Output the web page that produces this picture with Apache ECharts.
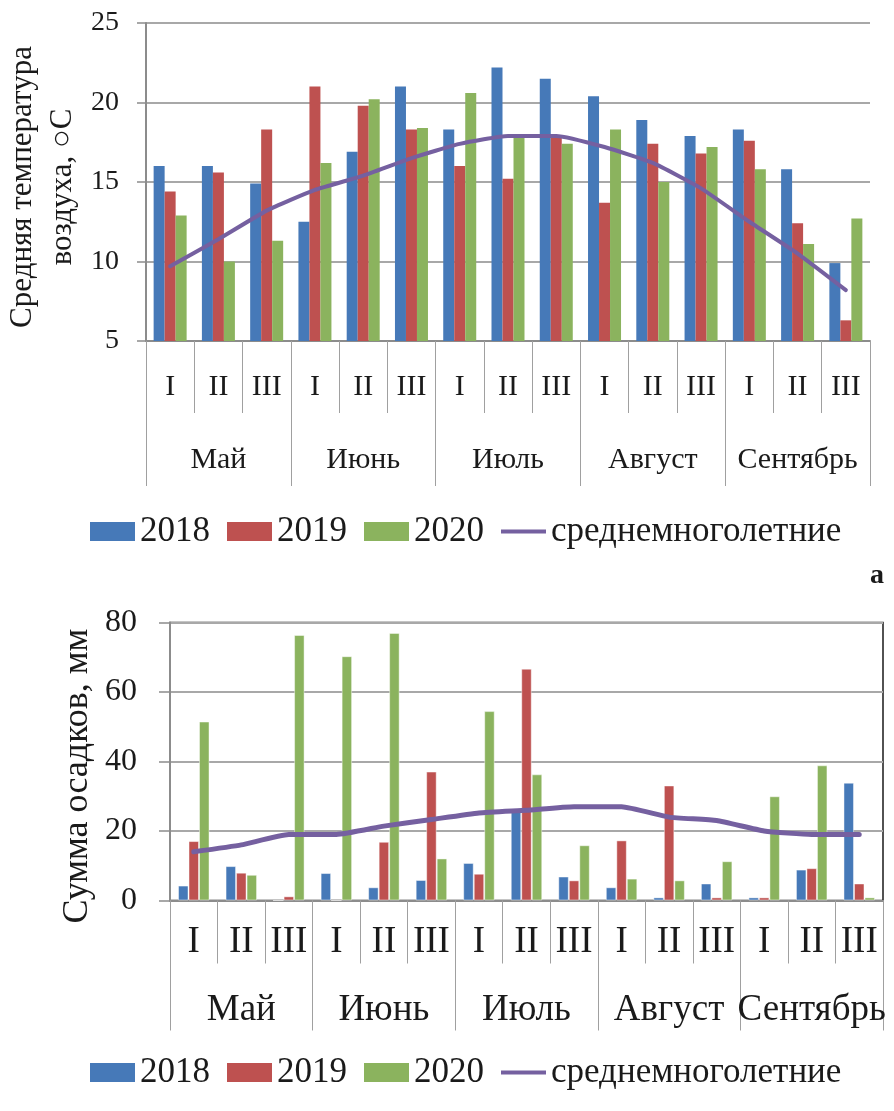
<!DOCTYPE html>
<html>
<head>
<meta charset="utf-8">
<script src="https://cdn.jsdelivr.net/npm/echarts@6/dist/echarts.min.js"></script>
<style>
  html, body { margin: 0; padding: 0; background: #fff; }
  #chart { width: 894px; height: 1111px; }
</style>
</head>
<body>
<div id="chart"></div>
<script>
// Ten-day periods (декады) within each month
const decades = ['I', 'II', 'III', 'I', 'II', 'III', 'I', 'II', 'III', 'I', 'II', 'III', 'I', 'II', 'III'];
const months = ['Май', 'Июнь', 'Июль', 'Август', 'Сентябрь'];
const seriesNames = ['2018', '2019', '2020', 'среднемноголетние'];

// Mean air temperature, °C
const temp2018 = [16.0, 16.0, 14.9, 12.5, 16.9, 21.0, 18.3, 22.2, 21.5, 20.4, 18.9, 17.9, 18.3, 15.8, 9.9];
const temp2019 = [14.4, 15.6, 18.3, 21.0, 19.8, 18.3, 16.0, 15.2, 17.9, 13.7, 17.4, 16.8, 17.6, 12.4, 6.3];
const temp2020 = [12.9, 10.0, 11.3, 16.2, 20.2, 18.4, 20.6, 17.9, 17.4, 18.3, 15.0, 17.2, 15.8, 11.1, 12.7];
const tempNorm = [9.7, 11.4, 13.2, 14.5, 15.4, 16.5, 17.4, 17.9, 17.9, 17.2, 16.2, 14.6, 12.5, 10.5, 8.2];

// Precipitation sum, mm
const prec2018 = [4.3, 9.9, 0, 7.9, 3.8, 5.9, 10.8, 26.0, 6.9, 3.8, 0.9, 4.9, 0.9, 8.9, 33.9];
const prec2019 = [17.1, 8.0, 1.2, 0, 16.9, 37.1, 7.7, 66.7, 5.8, 17.3, 33.1, 0.9, 0.9, 9.3, 4.9];
const prec2020 = [51.5, 7.4, 76.4, 70.3, 77.0, 12.1, 54.5, 36.3, 15.9, 6.3, 5.8, 11.3, 30.0, 38.9, 0.9];
const precNorm = [14, 16, 19, 19, 21.4, 23.3, 25.2, 26, 27, 27, 24, 23, 20, 19, 19];

const FONT = '"Liberation Serif", "Times New Roman", serif';
const TEXT = '#1a1a1a';
const COLORS = ['#4679B8', '#BE5150', '#8BB35E', '#7560A0'];
const AXIS_GREY = '#8c8c8c';
const GRID_GREY = '#a8a8a8';
// Legend swatch for the long-term mean: a thin bar centred in the 45x19 icon box
const LINE_ICON = 'path://M0 0h0.01v0.01H0zM0 18.99h0.01v0.01H0zM0 7.5h45v4H0z';

const chart = echarts.init(document.getElementById('chart'), null, { renderer: 'canvas' });

function subAxis(gridIndex, tickLen, labelMargin, fontSize) {
  return {
    type: 'category', gridIndex, position: 'bottom', data: decades,
    axisLine: { show: true, lineStyle: { color: AXIS_GREY, width: 2 } },
    axisTick: { show: true, interval: 0, length: tickLen, lineStyle: { color: '#a0a0a0', width: 1 } },
    axisLabel: { interval: 0, margin: labelMargin, verticalAlign: 'middle',
      fontFamily: FONT, fontSize, color: TEXT },
    splitLine: { show: false }
  };
}
function monthAxis(gridIndex, tickLen, labelMargin, fontSize) {
  return {
    type: 'category', gridIndex, position: 'bottom', data: months,
    axisLine: { show: false },
    axisTick: { show: true, interval: 0, length: tickLen, lineStyle: { color: '#a0a0a0', width: 1 } },
    axisLabel: { interval: 0, margin: labelMargin, verticalAlign: 'middle',
      fontFamily: FONT, fontSize, color: TEXT },
    splitLine: { show: false }
  };
}
function valueAxis(gridIndex, min, max, interval, tickLen, labelMargin, fontSize) {
  return {
    type: 'value', gridIndex, min, max, interval,
    axisLine: { show: true, lineStyle: { color: AXIS_GREY, width: 2 } },
    axisTick: { show: true, inside: false, length: tickLen, lineStyle: { color: AXIS_GREY, width: 1.5 } },
    axisLabel: { margin: labelMargin, fontFamily: FONT, fontSize, color: TEXT },
    splitLine: { show: true, lineStyle: { color: GRID_GREY, width: 2 } }
  };
}
function barSeries(name, data, idx, gridIdx, barW) {
  return {
    name, type: 'bar', data,
    xAxisIndex: gridIdx * 2, yAxisIndex: gridIdx,
    barWidth: barW, barGap: '0%',
    itemStyle: { color: COLORS[idx], borderColor: 'rgba(255,255,255,0.45)', borderWidth: gridIdx ? 1 : 0 },
    emphasis: { disabled: true }, animation: false
  };
}
function lineSeries(data, gridIdx, width) {
  return {
    name: seriesNames[3], type: 'line', data,
    xAxisIndex: gridIdx * 2, yAxisIndex: gridIdx,
    symbol: 'none', smooth: 0.15, z: 5,
    lineStyle: { color: COLORS[3], width, cap: 'round', join: 'round' },
    itemStyle: { color: COLORS[3] },
    emphasis: { disabled: true }, animation: false
  };
}
function legend(top) {
  return {
    data: [
      { name: seriesNames[0], icon: 'rect' },
      { name: seriesNames[1], icon: 'rect' },
      { name: seriesNames[2], icon: 'rect' },
      { name: seriesNames[3], icon: LINE_ICON, itemStyle: { color: COLORS[3], borderWidth: 0 } }
    ],
    left: 85, top, orient: 'horizontal',
    itemWidth: 45, itemHeight: 19, itemGap: 17,
    textStyle: { fontFamily: FONT, fontSize: 35, color: TEXT },
    selectedMode: false
  };
}

chart.setOption({
  animation: false,
  backgroundColor: '#ffffff',
  color: COLORS,
  grid: [
    { left: 146, top: 23, width: 724, height: 318, containLabel: false },
    { left: 170, top: 622.5, width: 713, height: 278, containLabel: false,
      show: true, borderColor: '#1a1a1a', borderWidth: 1.5, backgroundColor: 'transparent' }
  ],
  xAxis: [
    subAxis(0, 72, 46, 30),
    monthAxis(0, 145, 119, 30),
    subAxis(1, 63, 42, 37),
    monthAxis(1, 130, 110, 37)
  ],
  yAxis: [
    valueAxis(0, 5, 25, 5, 9, 27, 28),
    valueAxis(1, 0, 80, 20, 11, 33, 32)
  ],
  legend: [legend(509), legend(1050)],
  series: [
    barSeries(seriesNames[0], temp2018, 0, 0, 11),
    barSeries(seriesNames[1], temp2019, 1, 0, 11),
    barSeries(seriesNames[2], temp2020, 2, 0, 11),
    lineSeries(tempNorm, 0, 4),
    barSeries(seriesNames[0], prec2018, 0, 1, 10.5),
    barSeries(seriesNames[1], prec2019, 1, 1, 10.5),
    barSeries(seriesNames[2], prec2020, 2, 1, 10.5),
    lineSeries(precNorm, 1, 5)
  ],
  graphic: [
    { type: 'text', x: 43, y: 187, rotation: Math.PI / 2,
      style: { text: 'Средняя температура\nвоздуха, ○C', fontFamily: FONT, fontSize: 31,
        lineHeight: 40, fill: TEXT, align: 'center', verticalAlign: 'middle',
        textAlign: 'center', textVerticalAlign: 'middle' } },
    { type: 'text', x: 78, y: 776, rotation: Math.PI / 2,
      style: { text: 'Сумма осадков, мм', fontFamily: FONT, fontSize: 36,
        fill: TEXT, align: 'center', verticalAlign: 'middle',
        textAlign: 'center', textVerticalAlign: 'middle' } },
    { type: 'text', x: 877, y: 576,
      style: { text: 'а', fontFamily: FONT, fontSize: 28, fontWeight: 'bold',
        fill: TEXT, align: 'center', verticalAlign: 'middle',
        textAlign: 'center', textVerticalAlign: 'middle' } }
  ]
});
</script>
</body>
</html>
